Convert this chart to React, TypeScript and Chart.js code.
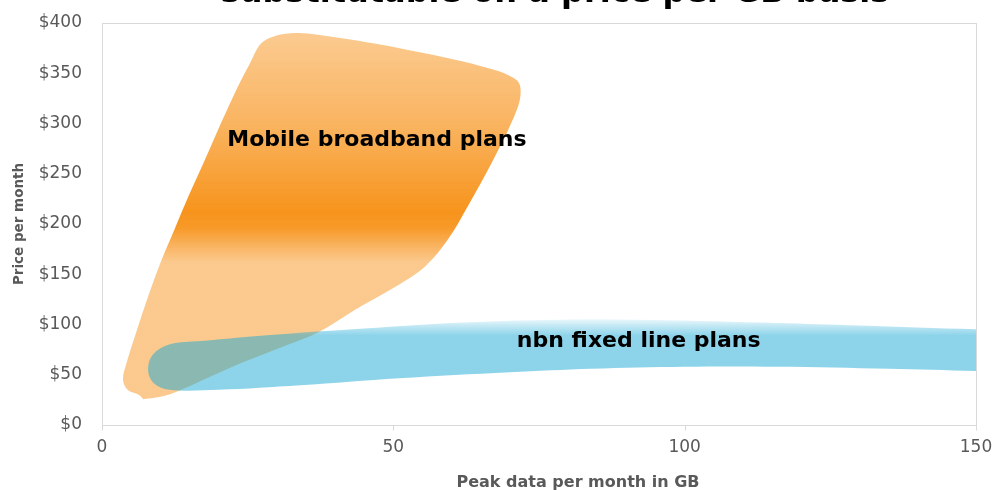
import React, { useEffect, useRef } from "react";
import { Chart, registerables } from "chart.js";

Chart.register(...registerables);

// ---- Data ----
const TITLE = "substitutable on a price per GB basis";
const X_TITLE = "Peak data per month in GB";
const Y_TITLE = "Price per month";
const X_MIN = 0;
const X_MAX = 150;
const X_STEP = 50;
const Y_MIN = 0;
const Y_MAX = 400;
const Y_STEP = 50;

const MOBILE_LABEL = "Mobile broadband plans";
const NBN_LABEL = "nbn fixed line plans";

// Outline of the "Mobile broadband plans" region (GB, $ per month)
const mobileGB = [
  7.1, 10, 13, 22, 32, 37.4, 43.5, 50.5, 55.5, 59.3, 63, 66.8, 70.2, 71.8, 71.2, 65.4,
  51.1, 39.7, 33, 27.8, 25.4, 22.5, 19.9, 17.4, 14.8, 12.4, 10, 7.9, 6, 4.2, 3.6, 4.4, 6.3, 7.1,
];
const mobilePrice = [
  25.6, 28, 33.5, 57, 80, 93, 115, 138, 158, 184, 220, 260, 300, 326.7, 343, 356.5,
  374.8, 386, 390, 382, 360, 326.7, 293.5, 260.4, 227.1, 194, 160.9, 127.6, 94.5, 61.4, 45, 35, 30, 25.6,
];

// Outline of the "nbn fixed line plans" band (GB, $ per month)
const nbnGB = [
  156, 150, 130, 116, 95, 80, 62, 45, 30, 17, 11.5, 8.7, 7.9, 8.8, 11.5, 20, 34, 51, 70, 84,
  100, 116, 135, 150, 156, 156,
];
const nbnPrice = [
  94.5, 95.2, 99, 101.5, 104.5, 105, 102, 96, 90, 83.5, 80, 70, 55, 42, 35, 35, 39.5, 46.5,
  52.5, 56, 58, 58, 56, 53.7, 52.5, 94.5,
];

// Label anchors (GB, $)
const MOBILE_LABEL_AT = [21.5, 277.5];
const NBN_LABEL_AT = [71.2, 77.6];

const FONT = '"DejaVu Sans", "Open Sans", sans-serif';
const GREY = "#595959";
const FRAME = "#d9d9d9";
const CLEAR = "rgba(0,0,0,0)";

const toPoints = (xs: number[], ys: number[]) => xs.map((x, i) => ({ x, y: ys[i] }));

function mobileGradient(c: any) {
  const chart = c.chart;
  const area = chart.chartArea;
  if (!area) return "rgba(247,148,29,0.5)";
  const y = chart.scales.y;
  const top = y.getPixelForValue(Y_MAX);
  const bot = y.getPixelForValue(Y_MIN);
  const g = chart.ctx.createLinearGradient(0, top, 0, bot);
  const stop = (v: number, a: number) =>
    g.addColorStop((Y_MAX - v) / (Y_MAX - Y_MIN), `rgba(247,148,29,${a})`);
  stop(400, 0.5);
  stop(385, 0.5);
  stop(300, 0.7);
  stop(212, 1);
  stop(196, 0.95);
  stop(178, 0.7);
  stop(162, 0.5);
  stop(0, 0.5);
  return g;
}

function nbnGradient(c: any) {
  const chart = c.chart;
  const area = chart.chartArea;
  if (!area) return "rgba(27,169,213,0.5)";
  const y = chart.scales.y;
  const top = y.getPixelForValue(Y_MAX);
  const bot = y.getPixelForValue(Y_MIN);
  const g = chart.ctx.createLinearGradient(0, top, 0, bot);
  const stop = (v: number, a: number) =>
    g.addColorStop((Y_MAX - v) / (Y_MAX - Y_MIN), `rgba(27,169,213,${a})`);
  stop(400, 0.06);
  stop(106, 0.06);
  stop(99, 0.26);
  stop(89, 0.5);
  stop(0, 0.5);
  return g;
}

const decorations = {
  id: "decorations",
  beforeDatasetsDraw(chart: any) {
    const { ctx, chartArea: a, scales } = chart;
    ctx.save();
    ctx.strokeStyle = FRAME;
    ctx.lineWidth = 1;
    const l = Math.round(a.left) + 0.5;
    const t = Math.round(a.top) + 0.5;
    const b = Math.round(a.bottom) + 0.5;
    ctx.strokeRect(l, t, Math.round(a.right - a.left), Math.round(a.bottom - a.top));
    // short tick marks below the x axis
    ctx.beginPath();
    for (const tk of scales.x.ticks) {
      const px = Math.round(scales.x.getPixelForValue(tk.value)) + 0.5;
      ctx.moveTo(px, b);
      ctx.lineTo(px, b + 5);
    }
    ctx.stroke();
    ctx.restore();
  },
  afterDraw(chart: any) {
    const { ctx, scales } = chart;
    const xs = scales.x;
    const ys = scales.y;
    ctx.save();
    // Region labels
    ctx.fillStyle = "#000";
    ctx.font = `bold 22px ${FONT}`;
    ctx.textAlign = "left";
    ctx.textBaseline = "alphabetic";
    ctx.fillText(MOBILE_LABEL, xs.getPixelForValue(MOBILE_LABEL_AT[0]), ys.getPixelForValue(MOBILE_LABEL_AT[1]));
    ctx.fillText(NBN_LABEL, xs.getPixelForValue(NBN_LABEL_AT[0]), ys.getPixelForValue(NBN_LABEL_AT[1]));

    // Title (only its lower part is visible in the frame)
    ctx.font = `bold 32px ${FONT}`;
    ctx.textAlign = "center";
    ctx.fillText(TITLE, 555, 2);

    // Axis titles
    ctx.fillStyle = GREY;
    ctx.font = `bold 16px ${FONT}`;
    ctx.textAlign = "center";
    ctx.textBaseline = "middle";
    ctx.fillText(X_TITLE, 578, 483);

    ctx.translate(19, (chart.chartArea.top + chart.chartArea.bottom) / 2);
    ctx.rotate(-Math.PI / 2);
    ctx.font = `bold 13.5px ${FONT}`;
    ctx.fillText(Y_TITLE, 0, 0);
    ctx.restore();
  },
};

export default function App() {
  const ref = useRef<HTMLCanvasElement>(null);
  useEffect(() => {
    if (!ref.current) return;
    const chart = new Chart(ref.current, {
      type: "line",
      data: {
        datasets: [
          {
            label: MOBILE_LABEL,
            data: toPoints(mobileGB, mobilePrice),
            backgroundColor: mobileGradient,
            borderWidth: 0,
            borderColor: CLEAR,
            fill: "shape",
            tension: 0.35,
            pointRadius: 0,
            order: 2,
            clip: 0,
          } as any,
          {
            label: NBN_LABEL,
            data: toPoints(nbnGB, nbnPrice),
            backgroundColor: nbnGradient,
            borderWidth: 0,
            borderColor: CLEAR,
            fill: "shape",
            tension: 0.35,
            pointRadius: 0,
            order: 1,
            clip: 0,
          } as any,
        ],
      },
      options: {
        animation: false,
        responsive: true,
        maintainAspectRatio: false,
        events: [],
        layout: { padding: { top: 23, right: 18, left: 0, bottom: 0 } },
        elements: { line: { capBezierPoints: false } },
        plugins: {
          legend: { display: false },
          tooltip: { enabled: false },
          title: { display: false },
        },
        scales: {
          x: {
            type: "linear",
            min: X_MIN,
            max: X_MAX,
            afterFit: (s: any) => {
              s.height = 65;
            },
            ticks: {
              stepSize: X_STEP,
              color: GREY,
              font: { family: FONT, size: 17 },
              padding: 0,
              maxRotation: 0,
            },
            grid: {
              display: true,
              drawOnChartArea: false,
              drawTicks: true,
              tickLength: 12,
              color: CLEAR,
            },
            border: { display: false },
          },
          y: {
            type: "linear",
            min: Y_MIN,
            max: Y_MAX,
            afterFit: (s: any) => {
              s.width = 102;
            },
            ticks: {
              stepSize: Y_STEP,
              color: GREY,
              font: { family: FONT, size: 17 },
              padding: 0,
              callback: (v: any) => "$" + v,
            },
            grid: {
              display: true,
              drawOnChartArea: false,
              drawTicks: true,
              tickLength: 20,
              color: CLEAR,
            },
            border: { display: false },
          },
        },
      },
      plugins: [decorations],
    } as any);
    return () => chart.destroy();
  }, []);
  return (
    <div style={{ position: "absolute", left: 0, top: 0, width: 994, height: 490 }}>
      <canvas ref={ref} />
    </div>
  );
}
